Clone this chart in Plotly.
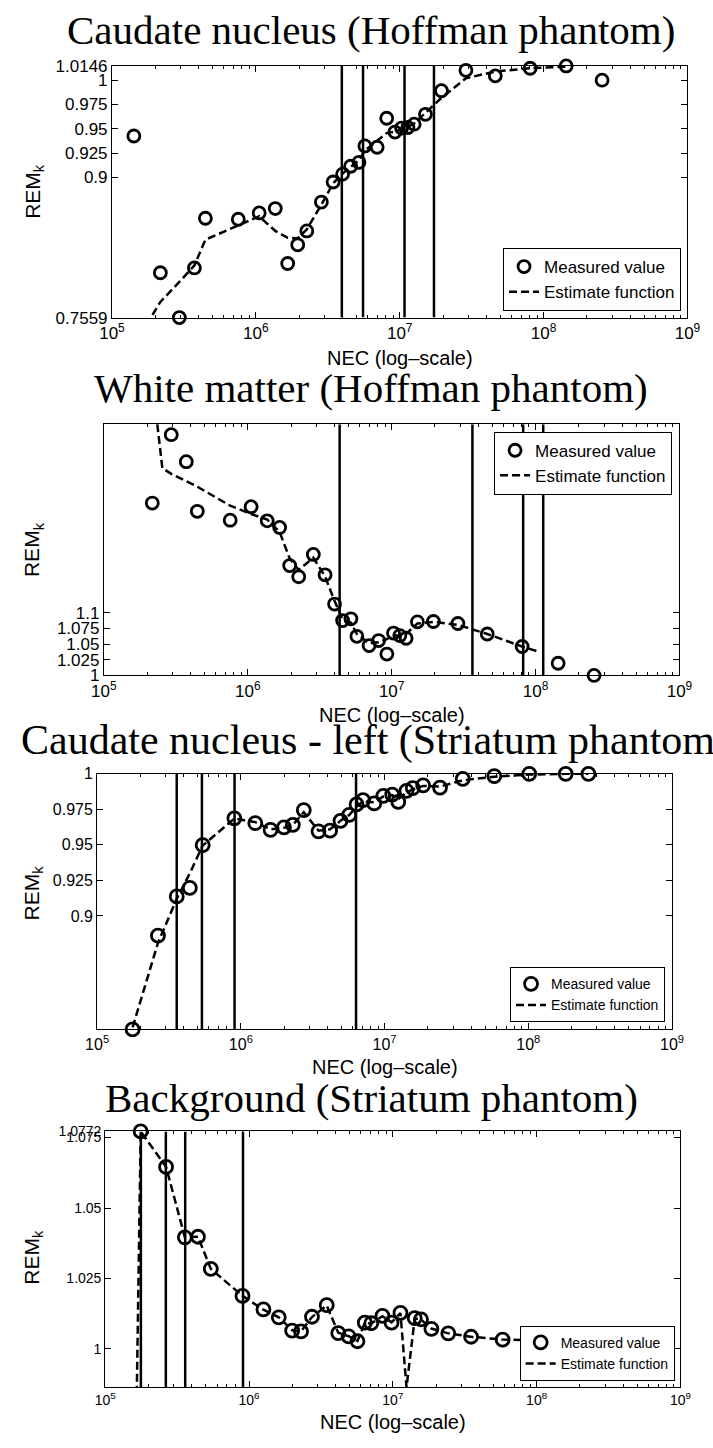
import plotly.graph_objects as go

W, H = 713, 1448

# ---------------- data ----------------
hoffman_nec = [1.42e5, 2.17e5, 2.94e5, 3.74e5, 4.46e5, 7.55e5, 1.055e6, 1.365e6, 1.665e6, 1.955e6,
               2.26e6, 2.855e6, 3.445e6, 4.01e6, 4.56e6, 5.21e6, 5.73e6, 6.97e6, 8.12e6, 9.26e6,
               1.03e7, 1.14e7, 1.26e7, 1.51e7, 1.95e7, 2.885e7, 4.615e7, 8.065e7, 1.435e8, 2.55e8]

caudate_hoff_measured = [0.9426, 0.802, 0.7559, 0.807, 0.858, 0.857, 0.8635, 0.868, 0.8115, 0.8307,
                         0.845, 0.8747, 0.8953, 0.9034, 0.9115, 0.9155, 0.9324, 0.931, 0.9608, 0.9466,
                         0.9507, 0.9513, 0.9547, 0.9649, 0.9892, 1.0101, 1.0044, 1.0122, 1.0146, 1.0]
caudate_hoff_estimate = [0.727, 0.772, 0.7926, 0.8095, 0.836, 0.8507, 0.860, 0.845, 0.838, 0.8375,
                         0.8466, 0.872, 0.894, 0.904, 0.911, 0.9176, 0.9277, 0.938, 0.9456, 0.947,
                         0.9497, 0.952, 0.9554, 0.9666, 0.9818, 1.002, 1.0088, 1.0122, 1.0139, None]
caudate_hoff_vlines = [3.96e6, 5.56e6, 1.08e7, 1.73e7]

white_matter_measured = [None, 1.2744, 1.3833, 1.3403, 1.2613, 1.2471, 1.2686, 1.2461, 1.2356, 1.1749,
                         1.1571, 1.1927, 1.1602, 1.1136, 1.0874, 1.0901, 1.0623, 1.0476, 1.0555, 1.034,
                         1.0675, 1.0634, 1.0592, 1.0853, 1.0859, 1.0827, 1.066, 1.0461, 1.0194, 1.0]
white_matter_est_nec = [2.2e5, 2.55e5, 2.94e5, 3.74e5, 4.46e5, 7.55e5, 1.055e6, 1.365e6, 1.665e6, 1.955e6,
                        2.26e6, 2.855e6, 3.445e6, 4.01e6, 4.56e6, 5.21e6, 5.73e6, 6.97e6, 8.12e6, 9.26e6,
                        1.03e7, 1.14e7, 1.26e7, 1.51e7, 1.95e7, 2.885e7, 4.615e7, 8.065e7, 1.02e8]
white_matter_estimate = [1.457, 1.33, 1.321, 1.3084, 1.3005, 1.2702, 1.257, 1.2482, 1.2283, 1.1864,
                         1.168, 1.1874, 1.1576, 1.1183, 1.0895, 1.084, 1.066, 1.0513, 1.0529, 1.058,
                         1.0634, 1.0634, 1.066, 1.0827, 1.0853, 1.0806, 1.066, 1.046, 1.0387]
white_matter_vlines = [4.35e6, 3.64e7, 8.2e7, 1.13e8]

striatum_nec = [1.765e5, 2.65e5, 3.58e5, 4.415e5, 5.425e5, 9.01e5, 1.26e6, 1.61e6, 1.995e6, 2.30e6,
                2.74e6, 3.47e6, 4.175e6, 4.935e6, 5.675e6, 6.385e6, 7.08e6, 8.47e6, 9.8e6, 1.13e7,
                1.245e7, 1.42e7, 1.57e7, 1.855e7, 2.43e7, 3.5e7, 5.8e7, 1.015e8, 1.82e8, 2.62e8]

caudate_left_measured = [0.8201, 0.8861, 0.9137, 0.9197, 0.9498, 0.9687, 0.9653, 0.9606, 0.9623, 0.9641,
                         0.9745, 0.9595, 0.960, 0.9669, 0.9711, 0.9785, 0.9815, 0.9792, 0.9845, 0.9854,
                         0.9803, 0.988, 0.990, 0.9919, 0.9903, 0.9965, 0.9984, 1.0, 1.0, 1.0]
caudate_left_estimate = [0.8215, 0.881, 0.912, 0.930, 0.9495, 0.9685, 0.966, 0.961, 0.962, 0.964,
                         0.973, 0.960, 0.961, 0.967, 0.971, 0.977, 0.9805, 0.980, 0.984, 0.985,
                         0.982, 0.987, 0.989, 0.9915, 0.991, 0.9955, 0.998, 0.9995, 1.0, 1.0]
caudate_left_vlines = [3.58e5, 5.36e5, 9.04e5, 6.33e6]

background_measured = [1.0772, 1.0646, 1.0396, 1.0398, 1.0284, 1.0188, 1.014, 1.0112, 1.0065, 1.0062,
                       1.0114, 1.0155, 1.0056, 1.0044, 1.0027, 1.0093, 1.0091, 1.0117, 1.0093, 1.0128,
                       0.9863, 1.0109, 1.0105, 1.0071, 1.0055, 1.0043, 1.0033, 1.003, 1.0025, 1.0022]
background_est_nec = [1.62e5] + striatum_nec
background_estimate = [0.95, 1.0772, 1.0646, 1.0396, 1.0398, 1.0284, 1.0188, 1.0139, 1.0112, 1.0066, 1.0062,
                       1.0113, 1.0154, 1.0057, 1.0045, 1.0028, 1.0092, 1.009, 1.0116, 1.0094, 1.0127,
                       0.9863, 1.0108, 1.0104, 1.0072, 1.0055, 1.0043, 1.0033, 1.003, 1.0025, 1.0022]
background_vlines = [1.77e5, 2.64e5, 3.6e5, 9.08e5]

titles = ["Caudate nucleus (Hoffman phantom)", "White matter (Hoffman phantom)",
          "Caudate nucleus - left (Striatum phantom)", "Background (Striatum phantom)"]
x_title = "NEC (log\u2013scale)"
y_title = "REM<sub>k</sub>"

x_tickvals = [1e5, 1e6, 1e7, 1e8, 1e9]
x_ticktext = ["10<sup>5</sup>", "10<sup>6</sup>", "10<sup>7</sup>", "10<sup>8</sup>", "10<sup>9</sup>"]
x_minor = [m * 10 ** e for e in range(5, 9) for m in range(2, 10)]

y_ticks = [
    [0.7559, 0.9, 0.925, 0.95, 0.975, 1.0, 1.0146],
    [1.0, 1.025, 1.05, 1.075, 1.1],
    [0.9, 0.925, 0.95, 0.975, 1.0],
    [1.0, 1.025, 1.05, 1.075, 1.0772],
]
y_ticklabels = [
    ["0.7559", "0.9", "0.925", "0.95", "0.975", "1", "1.0146"],
    ["1", "1.025", "1.05", "1.075", "1.1"],
    ["0.9", "0.925", "0.95", "0.975", "1"],
    ["1", "1.025", "1.05", "1.075", "1.0772"],
]
y_ranges = [[0.7559, 1.0146], [1.0, 1.40], [0.8201, 1.0], [0.98633, 1.0772]]

panels = [
    dict(mx=hoffman_nec, my=caudate_hoff_measured, ex=hoffman_nec, ey=caudate_hoff_estimate, vl=caudate_hoff_vlines),
    dict(mx=hoffman_nec, my=white_matter_measured, ex=white_matter_est_nec, ey=white_matter_estimate, vl=white_matter_vlines),
    dict(mx=striatum_nec, my=caudate_left_measured, ex=striatum_nec, ey=caudate_left_estimate, vl=caudate_left_vlines),
    dict(mx=striatum_nec, my=background_measured, ex=background_est_nec, ey=background_estimate, vl=background_vlines),
]

# ---------------- layout (pixels) ----------------
boxes = [  # left, right, top, bottom
    (102.7, 700.0, 57.7, 312.7),
    (94.3, 691.7, 420.7, 675.3),
    (87.3, 684.0, 775.0, 1034.0),
    (95.7, 692.7, 1137.3, 1396.7),
]
legend_pos = [  # right, y, anchor
    (693.3, 306.0, "bottom"),
    (684.0, 428.3, "top"),
    (676.7, 1026.7, "bottom"),
    (686.7, 1390.0, "bottom"),
]
tick_font = [17, 17, 16, 14]
legend_font = [17, 17, 14, 14]
marker_size = [12, 12, 13, 13]
title_x = [372, 372, 376, 372]
title_y = [21.5, 384.5, 741.5, 1103.5]
title_size = [41, 41, 42, 41]
xtitle_y = [354, 715, 1072, 1432]
ytitle_y = [185, 548, 896, 1265]

SANS = "Liberation Sans, Arial, sans-serif"
SERIF = "Liberation Serif, Times New Roman, serif"

fig = go.Figure()
layout = dict(width=W, height=H, margin=dict(l=0, r=0, t=0, b=0),
              paper_bgcolor="white", plot_bgcolor="white", annotations=[])

for i, P in enumerate(panels):
    sfx = "" if i == 0 else str(i + 1)
    xa, ya = "x" + sfx, "y" + sfx
    lg = "legend" + sfx
    L, R, T, B = boxes[i]
    for v in P["vl"]:
        fig.add_trace(go.Scatter(x=[v, v], y=y_ranges[i], mode="lines",
                                 line=dict(color="black", width=2.5), xaxis=xa, yaxis=ya,
                                 showlegend=False, hoverinfo="skip"))
    fig.add_trace(go.Scatter(x=P["mx"], y=P["my"], mode="markers", name="Measured value",
                             marker=dict(symbol="circle-open", size=marker_size[i], color="black",
                                         line=dict(width=2.8, color="black")),
                             cliponaxis=False, xaxis=xa, yaxis=ya, legend=lg))
    fig.add_trace(go.Scatter(x=P["ex"], y=P["ey"], mode="lines", name="Estimate function",
                             line=dict(color="black", width=2.5, dash="8px,4px"),
                             xaxis=xa, yaxis=ya, legend=lg))

    layout["xaxis" + sfx] = dict(
        type="log", range=[5, 9], domain=[L / W, R / W], anchor=ya,
        showline=True, linecolor="black", linewidth=1, mirror="allticks",
        ticks="inside", ticklen=6, tickwidth=1, tickcolor="black",
        tickvals=x_tickvals, ticktext=x_ticktext,
        tickfont=dict(family=SANS, size=tick_font[i], color="black"),
        showgrid=False, zeroline=False,
        minor=dict(tickvals=x_minor, ticks="inside", ticklen=3, tickcolor="black", showgrid=False),
    )
    layout["yaxis" + sfx] = dict(
        range=y_ranges[i], domain=[1 - B / H, 1 - T / H], anchor=xa,
        showline=True, linecolor="black", linewidth=1, mirror="allticks",
        ticks="inside", ticklen=6, tickwidth=1, tickcolor="black",
        tickvals=y_ticks[i], ticktext=y_ticklabels[i],
        tickfont=dict(family=SANS, size=tick_font[i], color="black"),
        showgrid=False, zeroline=False,
    )
    rx, ry, anc = legend_pos[i]
    layout[lg] = dict(x=rx / W, y=1 - ry / H, xanchor="right", yanchor=anc,
                      bordercolor="black", borderwidth=1, bgcolor="white",
                      font=dict(family=SANS, size=legend_font[i], color="black"),
                      tracegroupgap=0)

    layout["annotations"].append(dict(text=titles[i], x=title_x[i] / W, y=1 - title_y[i] / H, xref="paper", yref="paper",
                                      xanchor="center", yanchor="middle", showarrow=False,
                                      font=dict(family=SERIF, size=title_size[i], color="black")))
    layout["annotations"].append(dict(text=x_title, x=(L + R) / 2 / W, y=1 - xtitle_y[i] / H, xref="paper", yref="paper",
                                      xanchor="center", yanchor="middle", showarrow=False,
                                      font=dict(family=SANS, size=20, color="black")))
    layout["annotations"].append(dict(text=y_title, x=21 / W, y=1 - ytitle_y[i] / H, xref="paper", yref="paper",
                                      xanchor="center", yanchor="middle", showarrow=False, textangle=-90,
                                      font=dict(family=SANS, size=21, color="black")))

fig.update_layout(**layout)
fig.write_html("out.html")
